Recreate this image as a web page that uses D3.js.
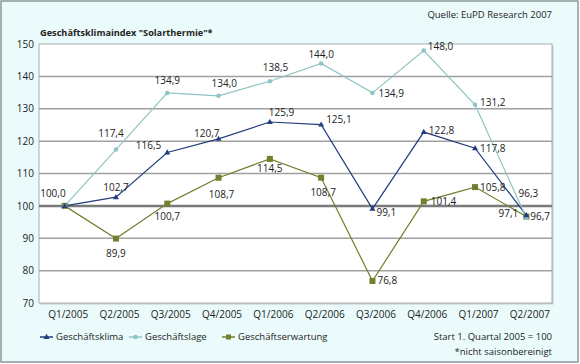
<!DOCTYPE html>
<html>
<head>
<meta charset="utf-8">
<script src="https://cdn.jsdelivr.net/npm/d3@7"></script>
<style>
  body { margin: 0; background: #fff; }
  svg text { font-family: "Open Sans", "Noto Sans", sans-serif; fill: #222; }
</style>
</head>
<body>
<svg id="chart"></svg>
<script>
// Chart data
var quarters = ["Q1/2005", "Q2/2005", "Q3/2005", "Q4/2005", "Q1/2006",
                "Q2/2006", "Q3/2006", "Q4/2006", "Q1/2007", "Q2/2007"];
var klima     = [100.0, 102.7, 116.5, 120.7, 125.9, 125.1, 99.1, 122.8, 117.8, 97.1];
var lage      = [100.0, 117.4, 134.9, 134.0, 138.5, 144.0, 134.9, 148.0, 131.2, 96.3];
var erwartung = [100.0, 89.9, 100.7, 108.7, 114.5, 108.7, 76.8, 101.4, 105.8, 96.7];
var yTicks = [70, 80, 90, 100, 110, 120, 130, 140, 150];

var W = 580, H = 364;
var pLeft = 39, pRight = 552, pTop = 44, pBottom = 303; // plot area
var fs = "9.5px"; // most text

// Where each value label sits relative to its point: [dx, dy, anchor]
var klimaLab = [[1, -12, "end"], [0, -10, "middle"], [-6, -7, "end"], [1, -5, "end"],
                [-1, -10, "start"], [5, -5, "start"], [4, 4, "start"], [5, -2, "start"],
                [5, 0, "start"], [-8, -2, "end"]];
var lageLab = [null, [-5, -16, "middle"], [0, -12, "middle"], [-7, -12, "start"],
               [-7, -14, "start"], [0, -9, "middle"], [6, 1, "start"], [4, -4, "start"],
               [5, -2, "start"], [2, -24, "middle"]];
var erwLab = [null, [0, 15, "middle"], [0, 13, "middle"], [3, 17, "middle"],
              [0, 10, "middle"], [2, 15, "middle"], [5, 0, "start"], [7, 0, "start"],
              [5, 0, "start"], [4, 0, "start"]];

var series = [
  { name: "Geschäftsklima", values: klima, color: "#223f7c", marker: "triangle", labs: klimaLab },
  { name: "Geschäftslage", values: lage, color: "#8ec4c4", marker: "circle", labs: lageLab },
  { name: "Geschäftserwartung", values: erwartung, color: "#717f2e", marker: "square", labs: erwLab }
];

var fmt = function(v) { return d3.format(".1f")(v).replace(".", ","); };

var svg = d3.select("#chart").attr("width", W).attr("height", H);

// Outer frame
svg.append("rect").attr("x", 1).attr("y", 1).attr("width", W - 3).attr("height", H - 3)
  .attr("fill", "#ebfbfb").attr("stroke", "#8a9898").attr("stroke-width", 1.5);

var x = d3.scalePoint().domain(quarters).range([pLeft, pRight]).padding(0.5);
var y = d3.scaleLinear().domain([70, 150]).range([pBottom, pTop]);

// Plot area (with a faint shadow)
svg.append("rect").attr("x", pLeft + 1.5).attr("y", pTop + 1.5)
  .attr("width", pRight - pLeft).attr("height", pBottom - pTop)
  .attr("fill", "#c4cccc");
svg.append("rect").attr("x", pLeft).attr("y", pTop)
  .attr("width", pRight - pLeft).attr("height", pBottom - pTop)
  .attr("fill", "#fff").attr("stroke", "#a8b0b0").attr("stroke-width", 1);

// Gridlines
svg.append("g").selectAll("line").data(yTicks.filter(function(t) { return t > 70 && t < 150; }))
  .enter().append("line")
  .attr("x1", pLeft).attr("x2", pRight)
  .attr("y1", function(d) { return y(d); }).attr("y2", function(d) { return y(d); })
  .attr("stroke", function(d) { return d == 100 ? "#7a7a7a" : "#a0a0a0"; })
  .attr("stroke-width", function(d) { return d == 100 ? 2.5 : 1.5; });

// Axes
var yAxis = svg.append("g").attr("transform", "translate(" + pLeft + ",0)")
  .call(d3.axisLeft(y).tickValues(yTicks).tickSize(0).tickPadding(5));
yAxis.select(".domain").remove();

var xAxis = svg.append("g").attr("transform", "translate(3," + pBottom + ")")
  .call(d3.axisBottom(x).tickSize(0).tickPadding(8));
xAxis.select(".domain").remove();

svg.selectAll(".tick text").attr("fill", null).attr("font-family", null)
  .style("font-size", "10px");
yAxis.attr("font-family", null).attr("font-size", null);
xAxis.attr("font-family", null).attr("font-size", null);

// Marker shapes
function marker(g, type, color, size) {
  if (type == "triangle") {
    g.append("path").attr("d", "M0,-3.2L3,2L-3,2Z").attr("fill", color);
  } else if (type == "circle") {
    g.append("circle").attr("r", size * 0.45).attr("fill", color);
  } else {
    g.append("rect").attr("x", -size / 2).attr("y", -size / 2)
      .attr("width", size).attr("height", size).attr("fill", color);
  }
}

var line = d3.line().x(function(d, i) { return x(quarters[i]); }).y(function(d) { return y(d); });

series.forEach(function(s) {
  svg.append("path").datum(s.values).attr("d", line)
    .attr("fill", "none").attr("stroke", s.color).attr("stroke-width", 1.2);
});

// draw the squares first so the others sit on top
series.slice().reverse().forEach(function(s) {
  s.values.forEach(function(v, i) {
    var g = svg.append("g").attr("transform", "translate(" + x(quarters[i]) + "," + y(v) + ")");
    marker(g, s.marker, s.color, s.marker == "square" ? 6 : 5);
  });
});

// Value labels
series.forEach(function(s) {
  var pts = s.values.map(function(v, i) { return { v: v, q: quarters[i], lab: s.labs[i] }; })
    .filter(function(p) { return p.lab != null; });
  svg.append("g").selectAll("text").data(pts).enter().append("text")
    .attr("x", function(p) { return x(p.q) + p.lab[0]; })
    .attr("y", function(p) { return y(p.v) + p.lab[1]; })
    .attr("dy", "0.35em")
    .attr("text-anchor", function(p) { return p.lab[2]; })
    .style("font-size", "10px")
    .text(function(p) { return fmt(p.v); });
});

// Titles
svg.append("text").attr("x", pLeft + 1).attr("y", 36)
  .style("font-size", "9.2px").style("font-weight", "bold")
  .text("Geschäftsklimaindex \"Solarthermie\"*");
svg.append("text").attr("x", pRight).attr("y", 18).attr("text-anchor", "end")
  .style("font-size", fs).text("Quelle: EuPD Research 2007");

// Legend
var legX = [40, 129, 222];
series.forEach(function(s, i) {
  var g = svg.append("g").attr("transform", "translate(" + legX[i] + ",337)");
  g.append("line").attr("x1", 0).attr("x2", 13).attr("stroke", s.color).attr("stroke-width", 1.5);
  var m = g.append("g").attr("transform", "translate(6.5,0)");
  marker(m, s.marker, s.color, 5);
  g.append("text").attr("x", 16).attr("dy", "0.35em").style("font-size", fs).text(s.name);
});

svg.append("text").attr("x", pRight).attr("y", 337).attr("dy", "0.35em").attr("text-anchor", "end")
  .style("font-size", fs).text("Start 1. Quartal 2005 = 100");
svg.append("text").attr("x", pRight).attr("y", 352).attr("dy", "0.35em").attr("text-anchor", "end")
  .style("font-size", fs).text("*nicht saisonbereinigt");
</script>
</body>
</html>
